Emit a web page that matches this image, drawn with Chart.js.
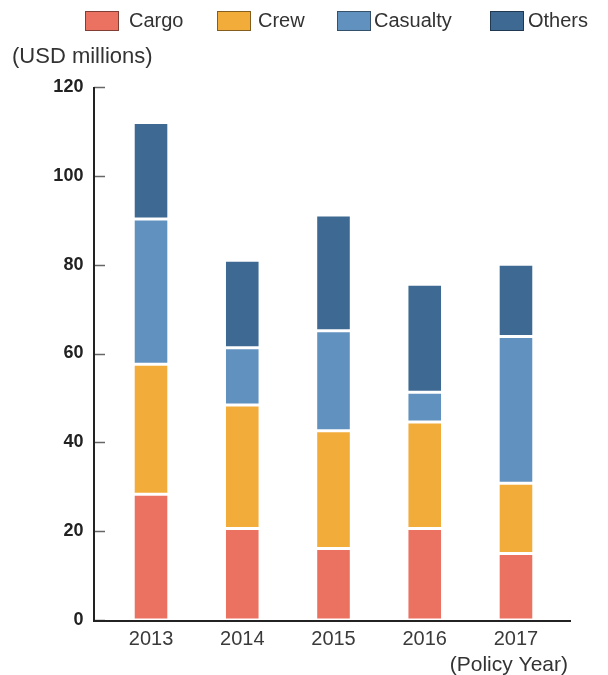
<!DOCTYPE html>
<html>
<head>
<meta charset="utf-8">
<script src="https://cdn.jsdelivr.net/npm/chart.js@4/dist/chart.umd.min.js"></script>
<style>
html,body{margin:0;padding:0;background:#fff;}
#wrap{width:608px;height:675px;position:relative;}
</style>
</head>
<body>
<div id="wrap"><canvas id="c" width="608" height="675"></canvas></div>
<script>
const categories = ['2013', '2014', '2015', '2016', '2017'];
const cargo    = [28.3, 20.6, 16.1, 20.6, 15.0];
const crew     = [29.3, 27.8, 26.5, 24.0, 15.8];
const casualty = [32.7, 12.9, 22.5, 6.7, 33.0];
const others   = [21.7, 19.7, 26.1, 24.3, 16.3];
const yTicks   = [0, 20, 40, 60, 80, 100, 120];
const seriesNames = ['Cargo', 'Crew', 'Casualty', 'Others'];
const yUnitLabel = '(USD millions)';
const xUnitLabel = '(Policy Year)';

const colors = ['#EB7160', '#F2AC3A', '#6192BF', '#3D6992'];

const LEFT_AXIS_X = 94;
const RIGHT_AXIS_END = 571;

const axesPlugin = {
  id: 'customAxes',
  afterDraw(chart) {
    const ctx = chart.ctx;
    const y = chart.scales.y;
    const bottom = y.getPixelForValue(0);
    const top = y.getPixelForValue(120);
    ctx.save();
    // tick marks inside
    ctx.strokeStyle = '#666';
    ctx.lineWidth = 1.5;
    yTicks.forEach(v => {
      const py = Math.round(y.getPixelForValue(v)) + 0.5;
      ctx.beginPath();
      ctx.moveTo(LEFT_AXIS_X, py);
      ctx.lineTo(LEFT_AXIS_X + 11, py);
      ctx.stroke();
    });
    // axis lines
    ctx.strokeStyle = '#222';
    ctx.lineWidth = 2;
    ctx.beginPath();
    ctx.moveTo(LEFT_AXIS_X, top);
    ctx.lineTo(LEFT_AXIS_X, bottom + 1);
    ctx.lineTo(RIGHT_AXIS_END, bottom + 1);
    ctx.stroke();

    // unit labels
    ctx.fillStyle = '#333';
    ctx.font = '22px "Liberation Sans", Arial, sans-serif';
    ctx.textAlign = 'left';
    ctx.textBaseline = 'middle';
    ctx.fillText(yUnitLabel, 12, 57);
    ctx.font = '21px "Liberation Sans", Arial, sans-serif';
    ctx.textAlign = 'right';
    ctx.fillText(xUnitLabel, 568, 665);

    // legend
    const boxX = [85, 217, 337, 490];
    const textX = [129, 258, 374, 528];
    ctx.font = '20px "Liberation Sans", Arial, sans-serif';
    ctx.textAlign = 'left';
    ctx.textBaseline = 'middle';
    chart.data.datasets.forEach((ds, i) => {
      ctx.fillStyle = ds.backgroundColor;
      ctx.fillRect(boxX[i], 11, 34, 20);
      ctx.strokeStyle = 'rgba(0,0,0,0.45)';
      ctx.lineWidth = 1;
      ctx.strokeRect(boxX[i] + 0.5, 11.5, 33, 19);
      ctx.fillStyle = '#333';
      ctx.fillText(ds.label, textX[i], 21);
    });
    ctx.restore();
  }
};

const seriesData = [cargo, crew, casualty, others];

new Chart(document.getElementById('c'), {
  type: 'bar',
  data: {
    labels: categories,
    datasets: seriesNames.map((n, i) => ({
      label: n,
      data: seriesData[i],
      backgroundColor: colors[i],
      borderColor: 'rgba(255,255,255,0.9)',
      borderWidth: 1.5,
      borderSkipped: false,
      categoryPercentage: 1,
      barPercentage: 0.39
    }))
  },
  options: {
    responsive: false,
    animation: false,
    devicePixelRatio: 1,
    layout: { padding: { top: 87, left: 0, right: 46.4, bottom: 25 } },
    plugins: { legend: { display: false }, tooltip: { enabled: false }, title: { display: false } },
    scales: {
      x: {
        stacked: true,
        grid: { display: false, drawTicks: false },
        border: { display: false },
        ticks: {
          padding: 7,
          color: '#3a3a3a',
          font: { family: '"Liberation Sans", Arial, sans-serif', size: 20 }
        },
        afterFit(scale) { scale.height = 30; }
      },
      y: {
        stacked: true,
        min: 0,
        max: 120,
        grid: { display: false, drawTicks: false },
        border: { display: false },
        afterBuildTicks(scale) { scale.ticks = yTicks.map(v => ({ value: v })); },
        ticks: {
          padding: 22,
          color: '#222',
          font: { family: '"Liberation Sans", Arial, sans-serif', size: 18, weight: 'bold' }
        },
        afterFit(scale) { scale.width = 105.4; }
      }
    }
  },
  plugins: [axesPlugin]
});
</script>
</body>
</html>
